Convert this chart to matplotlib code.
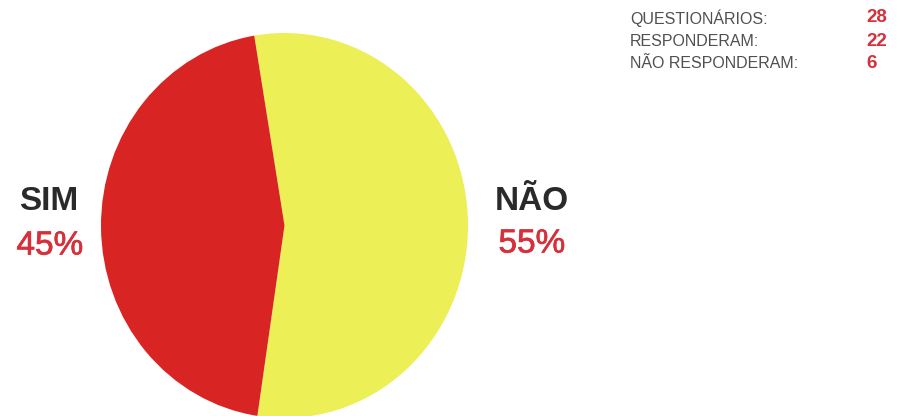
import matplotlib
matplotlib.use("Agg")
import matplotlib.pyplot as plt
import matplotlib.patheffects as pe

labels = ["NÃO", "SIM"]
values = [55, 45]
colors = ["#ecef55", "#d92424"]

info_labels = ["QUESTIONÁRIOS:", "RESPONDERAM:", "NÃO RESPONDERAM:"]
info_values = [28, 22, 6]

plt.rcParams['font.family'] = ['Liberation Sans', 'DejaVu Sans']

W, H = 907, 416
fig = plt.figure(figsize=(W / 100, H / 100), dpi=100)
fig.patch.set_facecolor("white")

# pie axes placed in pixel box
left, right, top, bottom = 101, 468, 33, 418
axp = fig.add_axes([left / W, (H - bottom) / H, (right - left) / W, (bottom - top) / H])
axp.pie(values, colors=colors, startangle=99.5, counterclock=False, radius=1,
        wedgeprops=dict(linewidth=0))
axp.set_xlim(-1, 1)
axp.set_ylim(-1, 1)
axp.set_aspect('auto')
axp.axis('off')

# overlay axes in pixel coords for text
ax = fig.add_axes([0, 0, 1, 1])
ax.set_xlim(0, W)
ax.set_ylim(H, 0)
ax.axis('off')
ax.patch.set_alpha(0)

dark = "#2a2a2a"
red = "#d6303a"
thick = [pe.withStroke(linewidth=0.5, foreground=red)]
ax.text(49, 201, labels[1], ha='center', va='center', fontsize=24, fontweight='bold', color=dark)
ax.text(50, 246, f"{values[1]}%", ha='center', va='center', fontsize=24, color=red, path_effects=thick)
ax.text(532, 201, labels[0], ha='center', va='center', fontsize=24, fontweight='bold', color=dark)
ax.text(532, 244, f"{values[0]}%", ha='center', va='center', fontsize=24, color=red, path_effects=thick)

ys = [18, 41, 63]
for lab, val, y in zip(info_labels, info_values, ys):
    ax.text(630, y, lab, ha='left', va='center', fontsize=11.5, color="#505050")
    ax.text(866, y, str(val), ha='left', va='center', fontsize=13.5, fontweight='bold', color=red)

fig.savefig("out.png", dpi=100, facecolor="white")
